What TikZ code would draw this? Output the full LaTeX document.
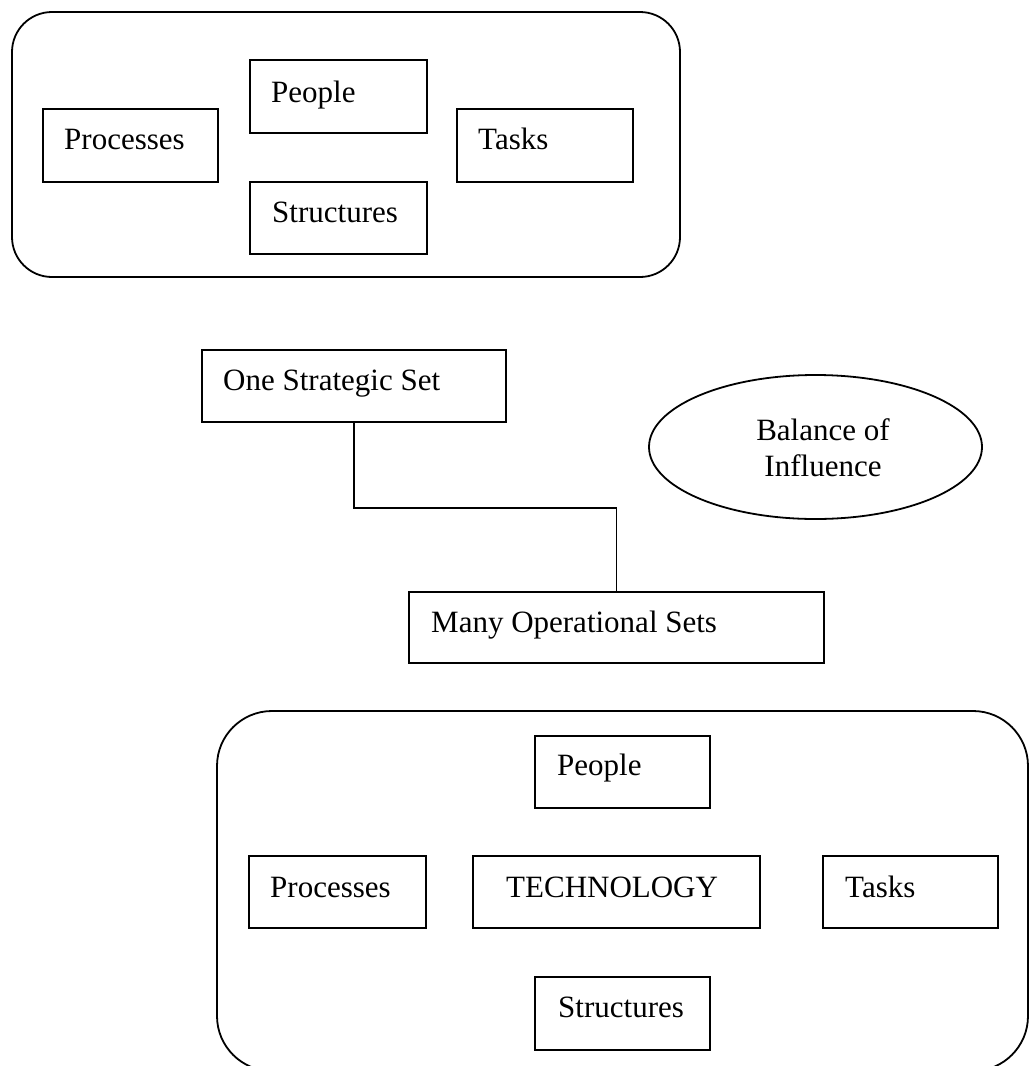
\documentclass[tikz,border=0pt]{standalone}
\usepackage{fontspec}
\setmainfont{Liberation Serif}
\usetikzlibrary{shapes.geometric}
\begin{document}
\begin{tikzpicture}[x=1pt,y=-1pt,
  every node/.style={font=\fontsize{31}{36}\selectfont},
  box/.style={draw, line width=1.8pt, rectangle, inner sep=0pt},
  group/.style={draw, line width=1.8pt},
  lbl/.style={anchor=base west, inner sep=0pt},
  conn/.style={draw, line width=1.8pt}]
\useasboundingbox (0,0) rectangle (1029,1066);

% top group
\draw[group, rounded corners=40pt] (12,12) rectangle (680,277);
\node[box, minimum width=175pt, minimum height=73pt] (tproc) at (130.5,145.5) {};
\node[box, minimum width=177pt, minimum height=73pt] (tpeople) at (338.5,96.5) {};
\node[box, minimum width=177pt, minimum height=72pt] (tstruct) at (338.5,218) {};
\node[box, minimum width=176pt, minimum height=73pt] (ttasks) at (545,145.5) {};
\node[lbl] (tproct) at (64,149) {Processes};
\node[lbl] (tpeoplet) at (271,102) {People};
\node[lbl] (tstructt) at (272,222) {Structures};
\node[lbl] (ttaskst) at (478,149) {Tasks};

% middle
\node[box, minimum width=304pt, minimum height=72pt] (oss) at (354,386) {};
\node[lbl] (osst) at (223,390) {One Strategic Set};
\node[box, minimum width=415pt, minimum height=71pt] (many) at (616.5,627.5) {};
\node[lbl] (manyt) at (431,632) {Many Operational Sets};
\node[draw, line width=1.8pt, ellipse, inner sep=0pt, minimum width=333pt, minimum height=144pt] (bal) at (815.5,447) {};
\node[align=center, inner sep=0pt] (balt) at (823,448) {Balance of\\Influence};
\draw[conn] (oss.south) -- ++(0,85) -| (many.north);

% bottom group
\draw[group, rounded corners=55pt] (217,711) rectangle (1028,1071);
\node[box, minimum width=175pt, minimum height=72pt] (bpeople) at (622.5,772) {};
\node[box, minimum width=177pt, minimum height=72pt] (bproc) at (337.5,892) {};
\node[box, minimum width=287pt, minimum height=72pt] (btech) at (616.5,892) {};
\node[box, minimum width=175pt, minimum height=72pt] (btasks) at (910.5,892) {};
\node[box, minimum width=175pt, minimum height=73pt] (bstruct) at (622.5,1013.5) {};
\node[lbl] (bpeoplet) at (557,775) {People};
\node[lbl] (bproct) at (270,897) {Processes};
\node[lbl] (btecht) at (506,897) {TECHNOLOGY};
\node[lbl] (btaskst) at (845,897) {Tasks};
\node[lbl] (bstructt) at (558,1017) {Structures};
\end{tikzpicture}
\end{document}
